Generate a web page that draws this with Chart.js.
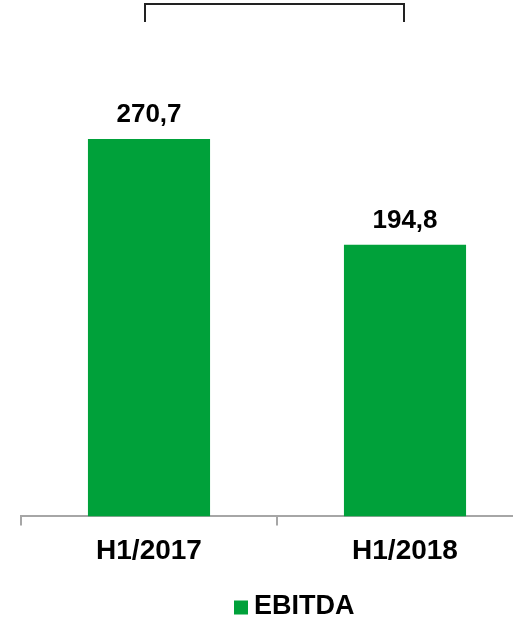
<!DOCTYPE html>
<html>
<head>
<meta charset="utf-8">
<script src="https://cdn.jsdelivr.net/npm/chart.js@4"></script>
<style>
  html, body { margin: 0; padding: 0; background: #fff; overflow: hidden; }
  #wrap { width: 560px; height: 617px; }
</style>
</head>
<body>
<div id="wrap"><canvas id="c" width="560" height="617"></canvas></div>
<script>
const categories = ['H1/2017', 'H1/2018'];
const ebitda = [270.7, 194.8];
const seriesName = 'EBITDA';
const barColor = '#00A13A';
const axisColor = '#a6a6a6';
const FONT = '"Liberation Sans", Arial, sans-serif';

const fmt = v => v.toFixed(1).replace('.', ',');

const valueLabels = {
  id: 'valueLabels',
  afterDatasetsDraw(chart) {
    const ctx = chart.ctx;
    const meta = chart.getDatasetMeta(0);
    ctx.save();
    ctx.font = 'bold 26px ' + FONT;
    ctx.fillStyle = '#000';
    ctx.textAlign = 'center';
    ctx.textBaseline = 'alphabetic';
    meta.data.forEach((el, i) => {
      ctx.fillText(fmt(chart.data.datasets[0].data[i]), el.x, el.y - 17);
    });
    ctx.restore();
  }
};

const bracket = {
  id: 'bracket',
  afterDraw(chart) {
    const ctx = chart.ctx;
    const xs = chart.scales.x;
    const top = chart.chartArea.top;
    const x0 = xs.getPixelForValue(0) - 4;
    const x1 = xs.getPixelForValue(1) - 1;
    ctx.save();
    ctx.strokeStyle = '#222';
    ctx.lineWidth = 2;
    ctx.beginPath();
    ctx.moveTo(x0, top + 18);
    ctx.lineTo(x0, top);
    ctx.lineTo(x1, top);
    ctx.lineTo(x1, top + 18);
    ctx.stroke();
    ctx.restore();
  }
};

const LEGEND_FS = 27;
const legendBox = {
  id: 'legendBox',
  afterDraw(chart) {
    const lg = chart.legend;
    if (!lg || !lg.legendHitBoxes || !lg.legendHitBoxes.length) return;
    const hb = lg.legendHitBoxes[0];
    const bw = 14;
    const textX = hb.left + bw + LEGEND_FS / 2;
    const ctx = chart.ctx;
    ctx.save();
    ctx.fillStyle = barColor;
    ctx.fillRect(textX - 6 - bw, hb.top + (hb.height - bw) / 2 + 1, bw, bw);
    ctx.restore();
  }
};

new Chart(document.getElementById('c'), {
  type: 'bar',
  data: {
    labels: categories,
    datasets: [{
      label: seriesName,
      data: ebitda,
      backgroundColor: barColor,
      borderWidth: 0,
      categoryPercentage: 1,
      barPercentage: 0.477
    }]
  },
  options: {
    responsive: false,
    animation: false,
    devicePixelRatio: 1,
    layout: { padding: { left: 21, right: 0, top: 4, bottom: -13 } },
    scales: {
      x: {
        offset: true,
        grid: { display: true, offset: true, drawOnChartArea: false, drawTicks: true, tickLength: 9, color: axisColor, lineWidth: 2 },
        border: { display: true, color: axisColor, width: 2 },
        ticks: { color: '#000', font: { family: FONT, size: 28, weight: 'bold' }, padding: 9 }
      },
      y: {
        display: false,
        min: 0,
        max: 367.6
      },
      y2: {
        position: 'right',
        display: true,
        grid: { display: false },
        border: { display: false },
        ticks: { display: false },
        afterFit(s) { s.width = 27; }
      }
    },
    plugins: {
      legend: {
        position: 'bottom',
        labels: {
          color: '#000',
          font: { family: FONT, size: LEGEND_FS, weight: 'bold' },
          boxWidth: 14,
          boxHeight: 14,
          padding: 16,
          generateLabels(chart) {
            return [{ text: seriesName, fillStyle: 'rgba(0,0,0,0)', strokeStyle: 'rgba(0,0,0,0)', lineWidth: 0, datasetIndex: 0, hidden: false }];
          }
        }
      },
      tooltip: { enabled: false }
    }
  },
  plugins: [valueLabels, bracket, legendBox]
});
</script>
</body>
</html>
